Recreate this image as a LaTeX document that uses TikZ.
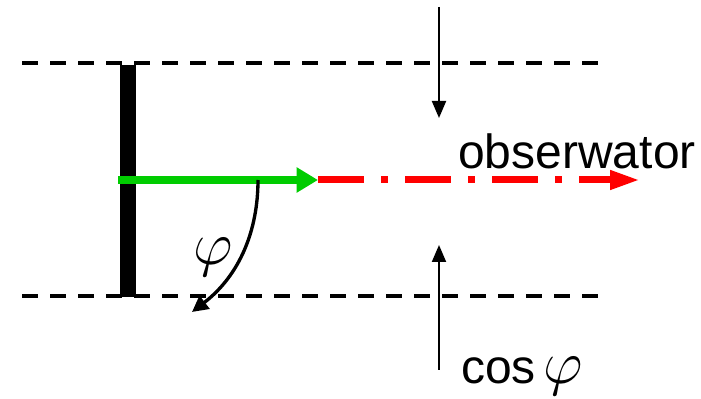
\RequirePackage{fix-cm}
\documentclass[tikz,border=0pt]{standalone}
\usepackage{fontspec}
\setmainfont{Liberation Sans}
\usetikzlibrary{arrows.meta}
\newcommand{\bigphi}{{\fontsize{46}{50}\selectfont$\varphi$}}
\begin{document}
\begin{tikzpicture}[x=0.75pt,y=-0.75pt,
  guide/.style={line width=3pt,dash pattern=on 12pt off 9pt},
  thin arrow/.style={line width=1.5pt,-{Triangle[length=12.75pt,width=10.5pt]}},
  lbl/.style={inner sep=0pt,font=\fontsize{36}{40}\selectfont}]
\useasboundingbox (0,0) rectangle (701,399);
% guide lines
\coordinate (t1) at (22,63); \coordinate (t2) at (598,63);
\coordinate (b1) at (22,296); \coordinate (b2) at (598,296);
\draw[guide] (t1) -- (t2);
\draw[guide] (b1) -- (b2);
% mirror bar
\fill[black] (120,65) rectangle (136,297);
% red dash-dot line
\coordinate (g0) at (118,180);
\coordinate (g1) at (318,180);
\coordinate (r1) at (640,180);
\draw[red,line width=5.25pt,dash pattern=on 34.5pt off 12.75pt on 5.25pt off 12.75pt,
  -{Triangle[length=22.5pt,width=13.5pt]}] (g1) -- (r1);
% green arrow
\draw[green!80!black,line width=6pt,-{Triangle[length=16pt,width=18pt]}] (g0) -- (g1);
% curved arrow
\coordinate (c0) at (258,180);
\coordinate (c1) at (192,312);
\draw[line width=2.5pt,-{Triangle[length=12pt,width=12pt]}]
  (c0) .. controls (258,230) and (240,275) .. (c1);
\node[lbl] (phi) at (213,257) {\bigphi};
% vertical arrows
\coordinate (d0) at (439,7); \coordinate (d1) at (439,118);
\coordinate (u0) at (439,370); \coordinate (u1) at (439,245);
\draw[thin arrow] (d0) -- (d1);
\draw[thin arrow] (u0) -- (u1);
% labels
\node[lbl,anchor=base west] (obs) at (458,169) {obserwator};
\node[lbl,anchor=base west] (cos) at (461,384) {cos\,\bigphi};
\end{tikzpicture}
\end{document}
